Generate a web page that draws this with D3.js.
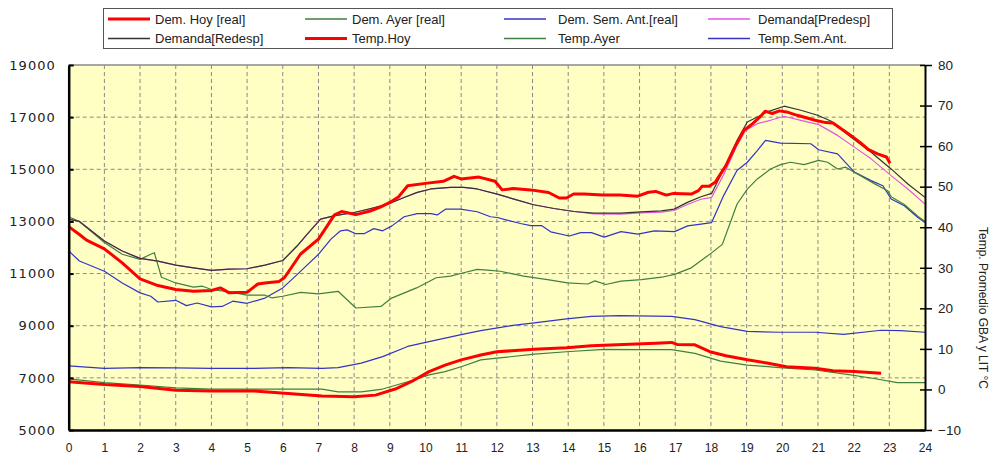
<!DOCTYPE html>
<html><head><meta charset="utf-8">
<script src="https://cdn.jsdelivr.net/npm/d3@7"></script>
<style>
html,body{margin:0;padding:0;background:#fff;}
svg{display:block;}
</style></head>
<body>
<svg id="chart" width="993" height="457"></svg>
<script>
// ---------- DATA ----------
const hourTicks = d3.range(0, 25);
const demandTicks = [5000, 7000, 9000, 11000, 13000, 15000, 17000, 19000];
const tempTicks = [-10, 0, 10, 20, 30, 40, 50, 60, 70, 80];
const rightTitle = "Temp. Promedio GBA y LIT °C";
const legendLabels = ["Dem. Hoy [real]", "Dem. Ayer [real]", "Dem. Sem. Ant.[real]", "Demanda[Predesp]",
                      "Demanda[Redesp]", "Temp.Hoy", "Temp.Ayer", "Temp.Sem.Ant."];

const demHoy = [[0,12800],[0.3,12500],[0.5,12280],[1,11950],[1.5,11410],[2,10800],[2.5,10540],[3,10390],[3.5,10320],[4,10350],[4.25,10450],[4.5,10260],[5,10280],[5.3,10600],[5.5,10640],[5.9,10700],[6.05,10850],[6.5,11750],[7,12320],[7.45,13250],[7.65,13380],[8.05,13260],[8.45,13400],[8.75,13560],[9,13730],[9.25,13950],[9.5,14370],[10,14460],[10.5,14540],[10.8,14730],[11,14630],[11.5,14700],[11.95,14540],[12.15,14210],[12.45,14260],[12.95,14210],[13.45,14110],[13.75,13900],[13.95,13900],[14.15,14050],[14.45,14050],[14.95,14010],[15.45,14010],[15.95,13970],[16.25,14120],[16.45,14150],[16.75,14010],[16.95,14075],[17.45,14050],[17.65,14180],[17.75,14345],[17.95,14345],[18.12,14500],[18.42,15140],[18.67,15850],[18.92,16490],[19.17,16750],[19.42,17070],[19.52,17230],[19.72,17140],[19.92,17240],[20.12,17200],[20.42,17070],[20.92,16880],[21.22,16790],[21.42,16775],[21.92,16300],[22.17,16040],[22.42,15750],[22.67,15590],[22.92,15470],[23.02,15230]];

const demAyer = [[0,13180],[0.3,13000],[1,12190],[1.5,11740],[2,11545],[2.3,11740],[2.4,11800],[2.6,10860],[3,10640],[3.5,10480],[3.75,10515],[4,10390],[4.5,10300],[5,10170],[5.5,10170],[5.7,10065],[6,10130],[6.5,10280],[7,10220],[7.55,10320],[8.05,9680],[8.75,9740],[9.05,10060],[9.75,10450],[10.3,10840],[10.7,10900],[11.07,11030],[11.45,11160],[11.82,11120],[12.1,11090],[12.75,10900],[13.42,10770],[13.98,10640],[14.55,10600],[14.75,10720],[15.05,10580],[15.48,10710],[16.05,10770],[16.62,10860],[16.98,10970],[17.45,11220],[17.9,11670],[18.32,12120],[18.73,13660],[19.02,14240],[19.3,14630],[19.67,15010],[19.95,15180],[20.23,15270],[20.61,15180],[21.02,15340],[21.27,15270],[21.55,15010],[21.78,15080],[22.02,14890],[22.58,14450],[22.95,14180],[23.05,13950],[23.42,13650],[23.8,13200],[24,13000]];

const demSemAnt = [[0,11870],[0.3,11480],[1,11090],[1.5,10640],[2,10260],[2.3,10130],[2.5,9910],[3,9975],[3.3,9770],[3.6,9870],[4,9720],[4.3,9740],[4.6,9940],[5,9860],[5.5,10060],[6,10450],[6.25,10770],[6.6,11220],[7,11740],[7.35,12320],[7.62,12640],[7.8,12675],[8.05,12530],[8.28,12530],[8.55,12725],[8.8,12640],[9.06,12830],[9.4,13180],[9.77,13300],[10.15,13300],[10.33,13250],[10.56,13470],[10.98,13470],[11.45,13370],[11.82,13180],[12.01,13150],[12.23,13070],[12.66,12920],[12.95,12840],[13.25,12840],[13.51,12600],[14.03,12440],[14.35,12570],[14.65,12570],[15.01,12400],[15.48,12610],[15.95,12510],[16.42,12640],[16.98,12610],[17.35,12830],[17.72,12900],[18.02,12955],[18.36,14000],[18.73,14950],[19.02,15270],[19.3,15720],[19.53,16110],[19.95,16000],[20.8,15980],[21.02,15750],[21.55,15590],[22.02,14890],[22.49,14565],[22.82,14370],[23.05,13860],[23.42,13600],[23.8,13150],[24,12955]];

const demPredesp = [[0,13090],[0.3,13000],[1,12250],[1.5,11865],[2,11583],[2.5,11480],[3,11326],[3.5,11222],[4,11120],[4.5,11170],[5,11185],[5.5,11326],[6,11500],[6.4,12057],[6.68,12507],[7.06,13087],[7.43,13214],[8,13342],[8.47,13497],[8.94,13665],[9.4,13920],[9.77,14113],[10.15,14245],[10.7,14307],[11.07,14307],[11.45,14245],[12.01,14050],[12.48,13858],[13.03,13640],[13.6,13497],[14.16,13380],[14.72,13290],[15.47,13280],[16.04,13330],[16.61,13360],[16.97,13420],[17.34,13650],[17.72,13850],[18.02,13922],[18.36,14800],[18.73,15915],[18.97,16493],[19.3,16750],[19.67,16879],[20.05,17033],[20.52,16879],[21.02,16713],[21.55,16300],[22.02,15850],[22.49,15400],[23.05,14757],[23.52,14244],[24,13665]];

const demRedesp = [[0,13090],[0.3,13000],[1,12250],[1.5,11865],[2,11583],[2.5,11480],[3,11326],[3.5,11222],[4,11120],[4.5,11170],[5,11185],[5.5,11326],[6,11500],[6.4,12057],[6.68,12507],[7.06,13087],[7.43,13214],[8,13342],[8.47,13497],[8.94,13665],[9.4,13920],[9.77,14113],[10.15,14245],[10.7,14307],[11.07,14307],[11.45,14245],[12.01,14050],[12.48,13858],[13.03,13640],[13.6,13497],[14.16,13380],[14.72,13318],[15.47,13318],[16.04,13369],[16.61,13407],[16.97,13472],[17.34,13730],[17.72,13947],[18.02,14075],[18.36,15014],[18.73,16107],[19.02,16813],[19.3,17006],[19.58,17200],[20.05,17420],[20.52,17264],[20.99,17071],[21.36,16850],[21.92,16235],[22.49,15656],[23.05,15014],[23.52,14437],[24,13922]];

const tempHoy = [[0,1.9],[1,1.2],[2,0.7],[3,-0.2],[4,-0.4],[5.2,-0.4],[6.15,-1.0],[7.1,-1.6],[8,-1.8],[8.6,-1.4],[9.15,0.1],[9.6,1.9],[10.1,4.4],[10.55,6.0],[11,7.3],[11.55,8.5],[12,9.3],[13.05,9.9],[13.95,10.3],[14.65,10.8],[15.55,11.1],[16.45,11.4],[16.9,11.6],[17.05,11.1],[17.55,11.0],[17.97,9.3],[18.42,8.3],[19.02,7.3],[19.57,6.5],[20.12,5.6],[20.92,5.2],[21.42,4.6],[22.02,4.4],[22.77,4.0]];

const tempAyer = [[0,2.6],[1,1.7],[2,1.1],[3,0.4],[4,0.1],[5.2,0.1],[6.15,0.1],[7.1,0.1],[7.55,-0.6],[8.2,-0.6],[8.8,0.1],[9.5,1.9],[10.1,3.6],[10.55,4.4],[11,5.6],[11.55,7.3],[12,7.7],[13.05,8.7],[13.95,9.3],[15,9.9],[15.95,9.8],[16.9,9.8],[17.55,8.9],[18.27,7.0],[19.02,6.0],[19.92,5.4],[20.92,4.8],[21.82,3.7],[22.57,2.7],[23.22,1.7],[24,1.7]];

const tempSemAnt = [[0,5.8],[1,5.2],[2,5.4],[3,5.3],[4,5.2],[5.2,5.2],[6.15,5.4],[7.1,5.2],[7.55,5.4],[8.2,6.5],[8.8,8.1],[9.5,10.6],[10.1,11.8],[11,13.5],[11.55,14.5],[12.45,15.8],[13.05,16.4],[13.95,17.4],[14.65,18.0],[15.45,18.2],[16.9,18.0],[17.55,17.2],[18.27,15.5],[19.02,14.3],[19.92,14.1],[20.92,14.1],[21.72,13.6],[22.77,14.6],[23.32,14.5],[24,14.1]];

// ---------- STYLES ----------
const C_RED = "#ff0000", C_GREEN = "#3f7f3f", C_BLUE = "#3434c4", C_MAG = "#e455e4", C_BLACK = "#333333";
const legendColors = [C_RED, C_GREEN, C_BLUE, C_MAG, C_BLACK, C_RED, C_GREEN, C_BLUE];
const legendWidths = [3, 1.3, 1.3, 1.3, 1.3, 3, 1.3, 1.3];

// ---------- CHART ----------
const svg = d3.select("#chart");
const L = 68.7, R = 925, T = 65, B = 430;
const x = d3.scaleLinear().domain([0, 24]).range([L, R]);
const yL = d3.scaleLinear().domain([5000, 19000]).range([B, T]);
const yR = d3.scaleLinear().domain([-10, 80]).range([B, T]);

svg.append("rect").attr("x", L).attr("y", T).attr("width", R - L).attr("height", B - T).attr("fill", "#ffffc4");

// grid
const grid = svg.append("g").attr("stroke", "#8a8a8a").attr("stroke-width", 1).attr("stroke-dasharray", "4,3");
grid.selectAll(".vg").data(hourTicks.filter(h => h > 0 && h < 24)).enter().append("line")
  .attr("x1", d => x(d)).attr("x2", d => x(d)).attr("y1", T).attr("y2", B);
grid.selectAll(".hg").data(demandTicks.filter(v => v > 5000 && v < 19000)).enter().append("line")
  .attr("x1", L).attr("x2", R).attr("y1", d => yL(d)).attr("y2", d => yL(d));

// top border
svg.append("line").attr("x1", L).attr("x2", R).attr("y1", T).attr("y2", T).attr("stroke", "#8a8a8a").attr("stroke-width", 1.5);

// series
const lineL = d3.line().x(d => x(d[0])).y(d => yL(d[1]));
const lineR = d3.line().x(d => x(d[0])).y(d => yR(d[1]));
const series = [
  {d: tempSemAnt, f: lineR, c: C_BLUE, w: 1.2},
  {d: tempAyer, f: lineR, c: C_GREEN, w: 1.2},
  {d: demSemAnt, f: lineL, c: C_BLUE, w: 1.2},
  {d: demAyer, f: lineL, c: C_GREEN, w: 1.2},
  {d: demPredesp, f: lineL, c: C_MAG, w: 1.2},
  {d: demRedesp, f: lineL, c: C_BLACK, w: 1.2},
  {d: tempHoy, f: lineR, c: C_RED, w: 3},
  {d: demHoy, f: lineL, c: C_RED, w: 3}
];
svg.append("g").selectAll("path").data(series).enter().append("path")
  .attr("d", s => s.f(s.d)).attr("fill", "none").attr("stroke", s => s.c)
  .attr("stroke-width", s => s.w).attr("stroke-linejoin", "round");

// left axis
const axL = svg.append("g").attr("transform", `translate(${L},0)`)
  .call(d3.axisLeft(yL).tickValues(demandTicks).tickFormat(d3.format("d")).tickSizeInner(-5).tickSizeOuter(0).tickPadding(13));
axL.select(".domain").attr("stroke", "#000").attr("stroke-width", 2.5);
axL.selectAll(".tick line").attr("stroke", "#000").attr("stroke-width", 2);
axL.selectAll("text").attr("font-family", "DejaVu Sans, sans-serif").attr("font-size", 13)
  .attr("letter-spacing", "1px").attr("fill", "#222");

// bottom axis
const axB = svg.append("g").attr("transform", `translate(0,${B})`)
  .call(d3.axisBottom(x).tickValues(hourTicks).tickFormat(d3.format("d")).tickSize(0).tickPadding(13));
axB.select(".domain").attr("stroke", "#000").attr("stroke-width", 2.5);
axB.selectAll("text").attr("font-family", "Liberation Sans, Arial, sans-serif").attr("font-size", 12).attr("fill", "#222");

// right axis
const axR = svg.append("g").attr("transform", `translate(${R},0)`)
  .call(d3.axisRight(yR).tickValues(tempTicks).tickSizeInner(7).tickSizeOuter(0).tickPadding(6));
axR.select(".domain").attr("stroke", "#000").attr("stroke-width", 2);
axR.selectAll(".tick line").attr("stroke", "#000").attr("stroke-width", 1.5).attr("x1", -5);
axR.selectAll("text").attr("font-family", "Liberation Sans, Arial, sans-serif").attr("font-size", 13.5).attr("fill", "#222");

svg.append("text").attr("transform", "translate(983,308) rotate(90)")
  .attr("text-anchor", "middle").attr("dominant-baseline", "central")
  .attr("font-family", "Liberation Sans, Arial, sans-serif").attr("font-size", 12).attr("fill", "#222")
  .text(rightTitle);

// legend
const lg = svg.append("g");
lg.append("rect").attr("x", 103.5).attr("y", 8.5).attr("width", 789).attr("height", 40)
  .attr("fill", "#fff").attr("stroke", "#555").attr("stroke-width", 1);
const colLine = [108, 305, 504, 708];
const colText = [155, 352, 558, 758];
const rowY = [19, 38.5];
legendLabels.forEach((lab, i) => {
  const col = i % 4, row = Math.floor(i / 4);
  lg.append("line").attr("x1", colLine[col]).attr("x2", colLine[col] + 42)
    .attr("y1", rowY[row]).attr("y2", rowY[row])
    .attr("stroke", legendColors[i]).attr("stroke-width", legendWidths[i]);
  lg.append("text").attr("x", colText[col]).attr("y", rowY[row]).attr("dy", "0.35em")
    .attr("font-family", "Liberation Sans, Arial, sans-serif").attr("font-size", 13).attr("fill", "#222")
    .text(lab);
});
</script>
</body></html>
